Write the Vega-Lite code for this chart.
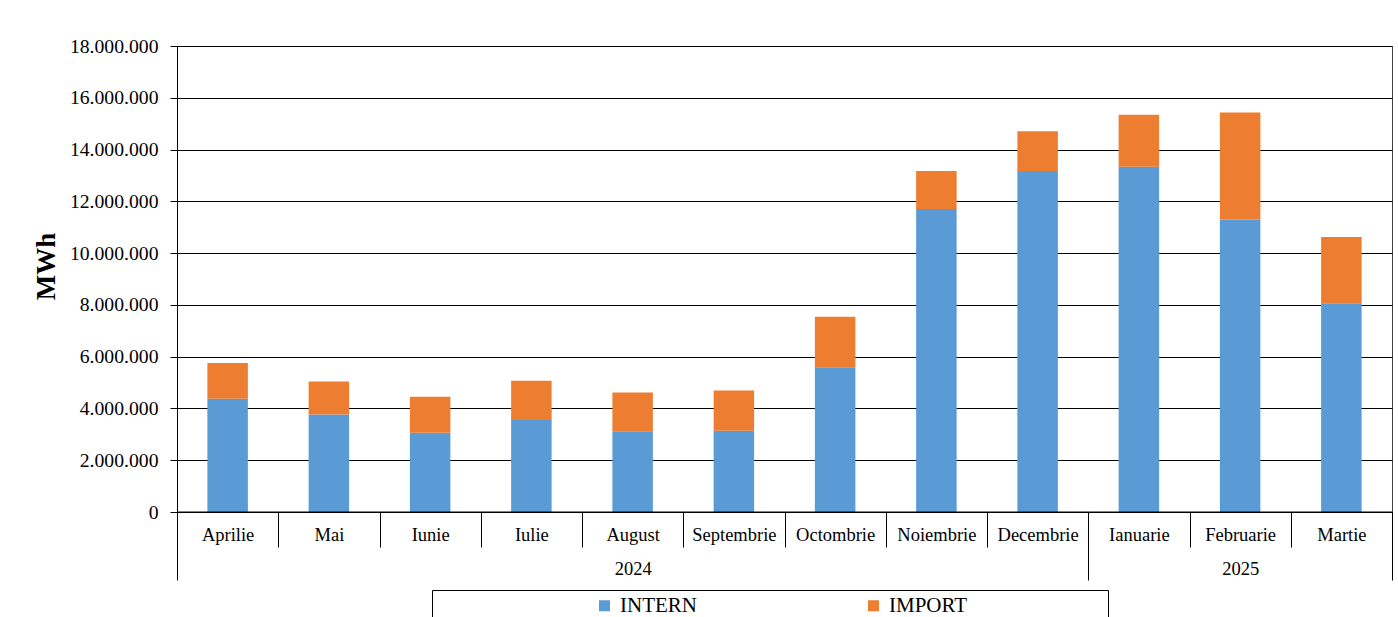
{
  "$schema": "https://vega.github.io/schema/vega-lite/v6.json",
  "width": 1215,
  "height": 466,
  "autosize": {"type": "none"},
  "padding": {"left": 177, "top": 46, "right": 6, "bottom": 105},
  "background": "white",
  "config": {
    "view": {"stroke": "#404040", "strokeWidth": 1},
    "font": "Liberation Serif",
    "legend": {"labelFont": "Liberation Serif", "titleFont": "Liberation Serif"}
  },
  "layer": [
    {
      "data": {
        "values": [
          {"month": "Aprilie", "series": "INTERN", "value": 4370000},
          {"month": "Aprilie", "series": "IMPORT", "value": 1390000},
          {"month": "Mai", "series": "INTERN", "value": 3770000},
          {"month": "Mai", "series": "IMPORT", "value": 1270000},
          {"month": "Iunie", "series": "INTERN", "value": 3060000},
          {"month": "Iunie", "series": "IMPORT", "value": 1390000},
          {"month": "Iulie", "series": "INTERN", "value": 3550000},
          {"month": "Iulie", "series": "IMPORT", "value": 1520000},
          {"month": "August", "series": "INTERN", "value": 3120000},
          {"month": "August", "series": "IMPORT", "value": 1500000},
          {"month": "Septembrie", "series": "INTERN", "value": 3140000},
          {"month": "Septembrie", "series": "IMPORT", "value": 1550000},
          {"month": "Octombrie", "series": "INTERN", "value": 5590000},
          {"month": "Octombrie", "series": "IMPORT", "value": 1950000},
          {"month": "Noiembrie", "series": "INTERN", "value": 11700000},
          {"month": "Noiembrie", "series": "IMPORT", "value": 1470000},
          {"month": "Decembrie", "series": "INTERN", "value": 13170000},
          {"month": "Decembrie", "series": "IMPORT", "value": 1540000},
          {"month": "Ianuarie", "series": "INTERN", "value": 13340000},
          {"month": "Ianuarie", "series": "IMPORT", "value": 2000000},
          {"month": "Februarie", "series": "INTERN", "value": 11300000},
          {"month": "Februarie", "series": "IMPORT", "value": 4130000},
          {"month": "Martie", "series": "INTERN", "value": 8060000},
          {"month": "Martie", "series": "IMPORT", "value": 2560000}
        ]
      },
      "mark": {"type": "bar", "width": {"band": 0.4}},
      "encoding": {
        "x": {
          "field": "month",
          "type": "nominal",
          "sort": ["Aprilie", "Mai", "Iunie", "Iulie", "August", "Septembrie", "Octombrie", "Noiembrie", "Decembrie", "Ianuarie", "Februarie", "Martie"],
          "scale": {"paddingInner": 0, "paddingOuter": 0},
          "axis": {
            "title": null,
            "tickBand": "extent",
            "tickSize": 35,
            "tickColor": "#000",
            "domainColor": "#000",
            "labelAngle": 0,
            "labelBaseline": "alphabetic",
            "labelPadding": -6.5,
            "labelFont": "Liberation Serif",
            "labelFontSize": 18.5,
            "labelColor": "#000",
            "labelOverlap": false,
            "grid": false
          }
        },
        "y": {
          "field": "value",
          "type": "quantitative",
          "stack": "zero",
          "scale": {"domain": [0, 18000000], "nice": false},
          "axis": {
            "values": [0, 2000000, 4000000, 6000000, 8000000, 10000000, 12000000, 14000000, 16000000, 18000000],
            "labelExpr": "join(split(format(datum.value, ','), ','), '.')",
            "grid": true,
            "gridColor": "#000",
            "gridWidth": 1,
            "domainColor": "#000",
            "tickColor": "#000",
            "tickSize": 7,
            "labelPadding": 12,
            "labelFont": "Liberation Serif",
            "labelFontSize": 19.7,
            "labelColor": "#000",
            "title": "MWh",
            "titleFont": "Liberation Serif",
            "titleFontSize": 27,
            "titleFontWeight": "bold",
            "titleColor": "#000",
            "titlePadding": 9,
            "titleY": 220
          }
        },
        "color": {
          "field": "series",
          "type": "nominal",
          "scale": {"domain": ["INTERN", "IMPORT"], "range": ["#5B9BD5", "#ED7D31"]},
          "legend": {
            "orient": "none",
            "legendX": 255,
            "legendY": 544,
            "direction": "horizontal",
            "title": "\u00a0",
            "titleFontSize": 11,
            "titleOrient": "left",
            "titlePadding": 157,
            "padding": 5,
            "strokeColor": "#000",
            "fillColor": "#fff",
            "symbolType": "square",
            "symbolSize": 121,
            "symbolStrokeWidth": 0,
            "labelFont": "Liberation Serif",
            "labelFontSize": 21,
            "labelColor": "#000",
            "labelOffset": 5,
            "labelLimit": 500,
            "columnPadding": 166,
            "labelExpr": "datum.label == 'IMPORT' ? 'IMPORT\u2800\u2800\u2800\u2800\u2800\u2800\u2800\u2800\u2800' : datum.label"
          }
        },
        "order": {"field": "series", "sort": "descending"}
      }
    },
    {
      "data": {
        "values": [
          {"year": "2024", "start": 0, "end": 9},
          {"year": "2025", "start": 9, "end": 12}
        ]
      },
      "mark": {"type": "rule", "color": "#000"},
      "encoding": {
        "x": {
          "field": "start",
          "type": "quantitative",
          "scale": {"domain": [0, 12], "nice": false, "zero": false},
          "axis": {
            "orient": "bottom",
            "title": null,
            "values": [0, 4.5, 9, 10.5, 12],
            "domain": false,
            "grid": false,
            "tickSize": 68,
            "tickColor": "#000",
            "tickOpacity": {"condition": {"test": "datum.value == 4.5 || datum.value == 10.5", "value": 0}, "value": 1},
            "labelExpr": "datum.value == 4.5 ? '2024' : (datum.value == 10.5 ? '2025' : '')",
            "labelBaseline": "alphabetic",
            "labelPadding": -6,
            "labelFont": "Liberation Serif",
            "labelFontSize": 18.5,
            "labelColor": "#000",
            "labelOverlap": false,
            "labelFlush": false,
            "labelBound": false
          }
        },
        "x2": {"field": "end"},
        "y": {"datum": 0}
      }
    }
  ],
  "resolve": {"scale": {"x": "independent"}, "axis": {"x": "independent"}}
}
